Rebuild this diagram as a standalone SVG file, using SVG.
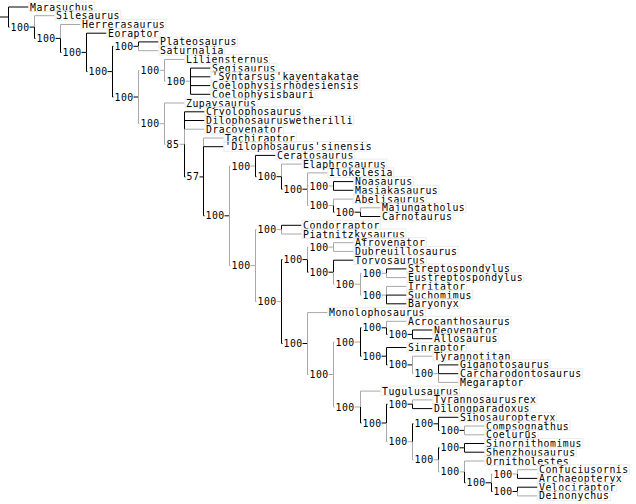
<svg xmlns="http://www.w3.org/2000/svg" width="636" height="504" viewBox="0 0 636 504">
<style>
path{fill:none;stroke-width:1}
.k{stroke:#000}
.g{stroke:#a8a8a8}
text{font-family:"DejaVu Sans Mono","Liberation Mono",monospace;font-size:9.8px;letter-spacing:0.5px;fill:#000}
.lb{fill:none;stroke:#ececec;stroke-width:1}
.nb{fill:#fff}
</style>
<rect width="636" height="504" fill="#fff"/>
<g id="connectors">
<path class="k" d="M0 17H8.5M8.5 17V7H28.5M8.5 17V27.1H34.5"/>
<path class="g" d="M34.5 27.1V15.7H54.5"/>
<path class="k" d="M34.5 27.1V38.4H60.5"/>
<path class="g" d="M60.5 38.4V24.5H80.5"/>
<path class="k" d="M60.5 38.4V52.4H86.5"/>
<path class="k" d="M86.5 52.4V33.2H106.5M86.5 52.4V71.6H112.5"/>
<path class="k" d="M112.5 71.6V46.3H138.5M112.5 71.6V97H138.5"/>
<path class="k" d="M138.5 46.3V41.9H158.5"/>
<path class="g" d="M138.5 46.3V50.7H158.5"/>
<path class="g" d="M138.5 97V70.3H164.5M138.5 97V123.7H164.5"/>
<path class="g" d="M164.5 70.3V59.4H184.5M164.5 70.3V81.2H190.5"/>
<path class="k" d="M190.5 81.2V68.1H210.5M190.5 81.2V76.8H210.5M190.5 81.2V85.6H210.5M190.5 81.2V94.3H210.5"/>
<path class="g" d="M164.5 123.7V103H184.5M164.5 123.7V144.3H184.5"/>
<path class="k" d="M184.5 144.3V111.8H204.5M184.5 144.3V120.5H204.5M184.5 144.3V176.9H203.5"/>
<path class="g" d="M184.5 144.3V129.2H204.5"/>
<path class="g" d="M203.5 176.9V138H223.5"/>
<path class="k" d="M203.5 176.9V146.7H223.5M203.5 176.9V215.8H229.5"/>
<path class="g" d="M229.5 215.8V166H255.5M229.5 215.8V265.6H255.5"/>
<path class="k" d="M255.5 166V155.4H275.5M255.5 166V176.7H281.5"/>
<path class="g" d="M281.5 176.7V164.1H301.5"/>
<path class="k" d="M281.5 176.7V189.2H307.5"/>
<path class="g" d="M307.5 189.2V172.9H327.5M307.5 189.2V186H333.5M307.5 189.2V205.6H333.5"/>
<path class="k" d="M333.5 186V181.6H353.5M333.5 186V190.3H353.5"/>
<path class="g" d="M333.5 205.6V199.1H353.5"/>
<path class="k" d="M333.5 205.6V212.2H360.5"/>
<path class="g" d="M360.5 212.2V207.8H380.5"/>
<path class="k" d="M360.5 212.2V216.5H380.5"/>
<path class="g" d="M255.5 265.6V229.6H281.5M255.5 265.6V301.6H281.5"/>
<path class="k" d="M281.5 229.6V225.3H301.5"/>
<path class="g" d="M281.5 229.6V234H301.5"/>
<path class="k" d="M281.5 301.6V259.6H307.5M281.5 301.6V343.5H307.5"/>
<path class="g" d="M307.5 259.6V247.1H333.5"/>
<path class="k" d="M307.5 259.6V272.2H333.5"/>
<path class="g" d="M333.5 247.1V242.7H353.5M333.5 247.1V251.4H353.5"/>
<path class="k" d="M333.5 272.2V260.2H353.5"/>
<path class="g" d="M333.5 272.2V284.2H360.5"/>
<path class="g" d="M360.5 284.2V273.3H386.5M360.5 284.2V295.1H386.5"/>
<path class="k" d="M386.5 273.3V268.9H406.5"/>
<path class="g" d="M386.5 273.3V277.6H406.5"/>
<path class="g" d="M386.5 295.1V286.4H406.5"/>
<path class="k" d="M386.5 295.1H406.5M386.5 295.1V303.8H406.5"/>
<path class="g" d="M307.5 343.5V312.6H327.5M307.5 343.5V374.5H333.5"/>
<path class="g" d="M333.5 374.5V342H360.5M333.5 374.5V407H360.5"/>
<path class="k" d="M360.5 342V327.8H386.5M360.5 342V356.2H386.5"/>
<path class="g" d="M386.5 327.8V321.3H406.5"/>
<path class="k" d="M386.5 327.8V334.4H412.5"/>
<path class="k" d="M412.5 334.4V330H432.5M412.5 334.4V338.7H432.5"/>
<path class="k" d="M386.5 356.2V347.5H406.5M386.5 356.2V364.9H412.5"/>
<path class="g" d="M412.5 364.9V356.2H432.5M412.5 364.9V373.7H438.5"/>
<path class="k" d="M438.5 373.7V364.9H458.5M438.5 373.7H458.5"/>
<path class="g" d="M438.5 373.7V382.4H458.5"/>
<path class="g" d="M360.5 407V391.1H380.5"/>
<path class="k" d="M360.5 407V423H386.5"/>
<path class="k" d="M386.5 423V404.2H412.5"/>
<path class="g" d="M386.5 423V441.8H412.5"/>
<path class="g" d="M412.5 404.2V399.9H432.5"/>
<path class="k" d="M412.5 404.2V408.6H432.5"/>
<path class="k" d="M412.5 441.8V423.8H438.5"/>
<path class="g" d="M412.5 441.8V459.8H438.5"/>
<path class="k" d="M438.5 423.8V417.3H458.5M438.5 423.8V430.4H464.5"/>
<path class="g" d="M464.5 430.4V426H484.5M464.5 430.4V434.8H484.5"/>
<path class="k" d="M438.5 459.8V447.8H464.5"/>
<path class="g" d="M438.5 459.8V471.9H464.5"/>
<path class="k" d="M464.5 447.8V443.5H484.5M464.5 447.8V452.2H484.5"/>
<path class="g" d="M464.5 471.9V461H484.5"/>
<path class="k" d="M464.5 471.9V482.8H491.5"/>
<path class="g" d="M491.5 482.8V474H517.5"/>
<path class="k" d="M491.5 482.8V491.5H517.5"/>
<path class="g" d="M517.5 474V469.7H537.5"/>
<path class="k" d="M517.5 474V478.4H537.5"/>
<path class="k" d="M517.5 491.5V487.2H537.5"/>
<path class="g" d="M517.5 491.5V495.9H537.5"/>
</g>
<g id="node-A"><rect class="nb" x="9.5" y="22.1" width="20" height="10"/><text x="10.5" y="30.6">100</text></g>
<g id="node-B"><rect class="nb" x="35.5" y="33.4" width="20" height="10"/><text x="36.5" y="41.9">100</text></g>
<g id="node-C"><rect class="nb" x="61.5" y="47.4" width="20" height="10"/><text x="62.5" y="55.9">100</text></g>
<g id="node-D"><rect class="nb" x="87.5" y="66.6" width="20" height="10"/><text x="88.5" y="75.1">100</text></g>
<g id="node-P"><rect class="nb" x="113.5" y="41.3" width="20" height="10"/><text x="114.5" y="49.8">100</text></g>
<g id="node-E"><rect class="nb" x="113.5" y="92" width="20" height="10"/><text x="114.5" y="100.5">100</text></g>
<g id="node-Q"><rect class="nb" x="139.5" y="65.3" width="20" height="10"/><text x="140.5" y="73.8">100</text></g>
<g id="node-F"><rect class="nb" x="139.5" y="118.7" width="20" height="10"/><text x="140.5" y="127.2">100</text></g>
<g id="node-R"><rect class="nb" x="165.5" y="76.2" width="20" height="10"/><text x="166.5" y="84.7">100</text></g>
<g id="node-G"><rect class="nb" x="165.5" y="139.3" width="14" height="10"/><text x="166.5" y="147.8">85</text></g>
<g id="node-H"><rect class="nb" x="185.5" y="171.9" width="14" height="10"/><text x="186.5" y="180.4">57</text></g>
<g id="node-I"><rect class="nb" x="204.5" y="210.8" width="20" height="10"/><text x="205.5" y="219.3">100</text></g>
<g id="node-J"><rect class="nb" x="230.5" y="161" width="20" height="10"/><text x="231.5" y="169.5">100</text></g>
<g id="node-K"><rect class="nb" x="230.5" y="260.6" width="20" height="10"/><text x="231.5" y="269.1">100</text></g>
<g id="node-J2"><rect class="nb" x="256.5" y="171.7" width="20" height="10"/><text x="257.5" y="180.2">100</text></g>
<g id="node-J3"><rect class="nb" x="282.5" y="184.2" width="20" height="10"/><text x="283.5" y="192.7">100</text></g>
<g id="node-Noa"><rect class="nb" x="308.5" y="181" width="20" height="10"/><text x="309.5" y="189.5">100</text></g>
<g id="node-Abel"><rect class="nb" x="308.5" y="200.6" width="20" height="10"/><text x="309.5" y="209.1">100</text></g>
<g id="node-MC"><rect class="nb" x="334.5" y="207.2" width="20" height="10"/><text x="335.5" y="215.7">100</text></g>
<g id="node-K1"><rect class="nb" x="256.5" y="224.6" width="20" height="10"/><text x="257.5" y="233.1">100</text></g>
<g id="node-K2"><rect class="nb" x="256.5" y="296.6" width="20" height="10"/><text x="257.5" y="305.1">100</text></g>
<g id="node-M"><rect class="nb" x="282.5" y="254.6" width="20" height="10"/><text x="283.5" y="263.1">100</text></g>
<g id="node-N"><rect class="nb" x="282.5" y="338.5" width="20" height="10"/><text x="283.5" y="347">100</text></g>
<g id="node-M1"><rect class="nb" x="308.5" y="242.1" width="20" height="10"/><text x="309.5" y="250.6">100</text></g>
<g id="node-M2"><rect class="nb" x="308.5" y="267.2" width="20" height="10"/><text x="309.5" y="275.7">100</text></g>
<g id="node-M3"><rect class="nb" x="334.5" y="279.2" width="20" height="10"/><text x="335.5" y="287.7">100</text></g>
<g id="node-S1"><rect class="nb" x="361.5" y="268.3" width="20" height="10"/><text x="362.5" y="276.8">100</text></g>
<g id="node-S2"><rect class="nb" x="361.5" y="290.1" width="20" height="10"/><text x="362.5" y="298.6">100</text></g>
<g id="node-N2"><rect class="nb" x="308.5" y="369.5" width="20" height="10"/><text x="309.5" y="378">100</text></g>
<g id="node-N3"><rect class="nb" x="334.5" y="337" width="20" height="10"/><text x="335.5" y="345.5">100</text></g>
<g id="node-N4"><rect class="nb" x="334.5" y="402" width="20" height="10"/><text x="335.5" y="410.5">100</text></g>
<g id="node-N3a"><rect class="nb" x="361.5" y="322.8" width="20" height="10"/><text x="362.5" y="331.3">100</text></g>
<g id="node-N3b"><rect class="nb" x="361.5" y="351.2" width="20" height="10"/><text x="362.5" y="359.7">100</text></g>
<g id="node-NA"><rect class="nb" x="387.5" y="329.4" width="20" height="10"/><text x="388.5" y="337.9">100</text></g>
<g id="node-TN"><rect class="nb" x="387.5" y="359.9" width="20" height="10"/><text x="388.5" y="368.4">100</text></g>
<g id="node-GC"><rect class="nb" x="413.5" y="368.7" width="20" height="10"/><text x="414.5" y="377.2">100</text></g>
<g id="node-N5"><rect class="nb" x="361.5" y="418" width="20" height="10"/><text x="362.5" y="426.5">100</text></g>
<g id="node-TY"><rect class="nb" x="387.5" y="399.2" width="20" height="10"/><text x="388.5" y="407.7">100</text></g>
<g id="node-N6"><rect class="nb" x="387.5" y="436.8" width="20" height="10"/><text x="388.5" y="445.3">100</text></g>
<g id="node-SI"><rect class="nb" x="413.5" y="418.8" width="20" height="10"/><text x="414.5" y="427.3">100</text></g>
<g id="node-CO"><rect class="nb" x="439.5" y="425.4" width="20" height="10"/><text x="440.5" y="433.9">100</text></g>
<g id="node-N7"><rect class="nb" x="413.5" y="454.8" width="20" height="10"/><text x="414.5" y="463.3">100</text></g>
<g id="node-SN"><rect class="nb" x="439.5" y="442.8" width="20" height="10"/><text x="440.5" y="451.3">100</text></g>
<g id="node-N8"><rect class="nb" x="439.5" y="466.9" width="20" height="10"/><text x="440.5" y="475.4">100</text></g>
<g id="node-N9"><rect class="nb" x="465.5" y="477.8" width="20" height="10"/><text x="466.5" y="486.3">100</text></g>
<g id="node-CA"><rect class="nb" x="492.5" y="469" width="20" height="10"/><text x="493.5" y="477.5">100</text></g>
<g id="node-VD"><rect class="nb" x="492.5" y="486.5" width="20" height="10"/><text x="493.5" y="495">100</text></g>
<g id="leaf-Marasuchus"><rect class="lb" x="29" y="2" width="65.8" height="9.5"/><text x="30" y="10.5">Marasuchus</text></g>
<g id="leaf-Silesaurus"><rect class="lb" x="55" y="10.7" width="65.8" height="9.5"/><text x="56" y="19.2">Silesaurus</text></g>
<g id="leaf-Herrerasaurus"><rect class="lb" x="81" y="19.5" width="84.9" height="9.5"/><text x="82" y="28">Herrerasaurus</text></g>
<g id="leaf-Eoraptor"><rect class="lb" x="107" y="28.2" width="53" height="9.5"/><text x="108" y="36.7">Eoraptor</text></g>
<g id="leaf-Plateosaurus"><rect class="lb" x="159" y="36.9" width="78.6" height="9.5"/><text x="160" y="45.4">Plateosaurus</text></g>
<g id="leaf-Saturnalia"><rect class="lb" x="159" y="45.7" width="65.8" height="9.5"/><text x="160" y="54.2">Saturnalia</text></g>
<g id="leaf-Liliensternus"><rect class="lb" x="185" y="54.4" width="84.9" height="9.5"/><text x="186" y="62.9">Liliensternus</text></g>
<g id="leaf-Segisaurus"><rect class="lb" x="211" y="63.1" width="65.8" height="9.5"/><text x="212" y="71.6">Segisaurus</text></g>
<g id="leaf-Syntarsus"><rect class="lb" x="211" y="71.8" width="148.7" height="9.5"/><text x="212" y="80.3">'Syntarsus'kayentakatae</text></g>
<g id="leaf-Crhodesiensis"><rect class="lb" x="211" y="80.6" width="148.7" height="9.5"/><text x="212" y="89.1">Coelophysisrhodesiensis</text></g>
<g id="leaf-Cbauri"><rect class="lb" x="211" y="89.3" width="104.1" height="9.5"/><text x="212" y="97.8">Coelophysisbauri</text></g>
<g id="leaf-Zupaysaurus"><rect class="lb" x="185" y="98" width="72.2" height="9.5"/><text x="186" y="106.5">Zupaysaurus</text></g>
<g id="leaf-Cryolophosaurus"><rect class="lb" x="205" y="106.8" width="97.7" height="9.5"/><text x="206" y="115.3">Cryolophosaurus</text></g>
<g id="leaf-Dwetherilli"><rect class="lb" x="205" y="115.5" width="148.7" height="9.5"/><text x="206" y="124">Dilophosauruswetherilli</text></g>
<g id="leaf-Dracovenator"><rect class="lb" x="205" y="124.2" width="78.6" height="9.5"/><text x="206" y="132.7">Dracovenator</text></g>
<g id="leaf-Tachiraptor"><rect class="lb" x="224" y="133" width="72.2" height="9.5"/><text x="225" y="141.5">Tachiraptor</text></g>
<g id="leaf-Dsinensis"><rect class="lb" x="224" y="141.7" width="142.4" height="9.5"/><text x="225" y="150.2">'Dilophosaurus'sinensis</text></g>
<g id="leaf-Ceratosaurus"><rect class="lb" x="276" y="150.4" width="78.6" height="9.5"/><text x="277" y="158.9">Ceratosaurus</text></g>
<g id="leaf-Elaphrosaurus"><rect class="lb" x="302" y="159.1" width="84.9" height="9.5"/><text x="303" y="167.6">Elaphrosaurus</text></g>
<g id="leaf-Ilokelesia"><rect class="lb" x="328" y="167.9" width="65.8" height="9.5"/><text x="329" y="176.4">Ilokelesia</text></g>
<g id="leaf-Noasaurus"><rect class="lb" x="354" y="176.6" width="59.4" height="9.5"/><text x="355" y="185.1">Noasaurus</text></g>
<g id="leaf-Masiakasaurus"><rect class="lb" x="354" y="185.3" width="84.9" height="9.5"/><text x="355" y="193.8">Masiakasaurus</text></g>
<g id="leaf-Abelisaurus"><rect class="lb" x="354" y="194.1" width="72.2" height="9.5"/><text x="355" y="202.6">Abelisaurus</text></g>
<g id="leaf-Majungatholus"><rect class="lb" x="381" y="202.8" width="84.9" height="9.5"/><text x="382" y="211.3">Majungatholus</text></g>
<g id="leaf-Carnotaurus"><rect class="lb" x="381" y="211.5" width="72.2" height="9.5"/><text x="382" y="220">Carnotaurus</text></g>
<g id="leaf-Condorraptor"><rect class="lb" x="302" y="220.3" width="78.6" height="9.5"/><text x="303" y="228.8">Condorraptor</text></g>
<g id="leaf-Piatnitzkysaurus"><rect class="lb" x="302" y="229" width="104.1" height="9.5"/><text x="303" y="237.5">Piatnitzkysaurus</text></g>
<g id="leaf-Afrovenator"><rect class="lb" x="354" y="237.7" width="72.2" height="9.5"/><text x="355" y="246.2">Afrovenator</text></g>
<g id="leaf-Dubreuillosaurus"><rect class="lb" x="354" y="246.4" width="104.1" height="9.5"/><text x="355" y="254.9">Dubreuillosaurus</text></g>
<g id="leaf-Torvosaurus"><rect class="lb" x="354" y="255.2" width="72.2" height="9.5"/><text x="355" y="263.7">Torvosaurus</text></g>
<g id="leaf-Streptospondylus"><rect class="lb" x="407" y="263.9" width="104.1" height="9.5"/><text x="408" y="272.4">Streptospondylus</text></g>
<g id="leaf-Eustreptospondylus"><rect class="lb" x="407" y="272.6" width="116.8" height="9.5"/><text x="408" y="281.1">Eustreptospondylus</text></g>
<g id="leaf-Irritator"><rect class="lb" x="407" y="281.4" width="59.4" height="9.5"/><text x="408" y="289.9">Irritator</text></g>
<g id="leaf-Suchomimus"><rect class="lb" x="407" y="290.1" width="65.8" height="9.5"/><text x="408" y="298.6">Suchomimus</text></g>
<g id="leaf-Baryonyx"><rect class="lb" x="407" y="298.8" width="53" height="9.5"/><text x="408" y="307.3">Baryonyx</text></g>
<g id="leaf-Monolophosaurus"><rect class="lb" x="328" y="307.6" width="97.7" height="9.5"/><text x="329" y="316.1">Monolophosaurus</text></g>
<g id="leaf-Acrocanthosaurus"><rect class="lb" x="407" y="316.3" width="104.1" height="9.5"/><text x="408" y="324.8">Acrocanthosaurus</text></g>
<g id="leaf-Neovenator"><rect class="lb" x="433" y="325" width="65.8" height="9.5"/><text x="434" y="333.5">Neovenator</text></g>
<g id="leaf-Allosaurus"><rect class="lb" x="433" y="333.7" width="65.8" height="9.5"/><text x="434" y="342.2">Allosaurus</text></g>
<g id="leaf-Sinraptor"><rect class="lb" x="407" y="342.5" width="59.4" height="9.5"/><text x="408" y="351">Sinraptor</text></g>
<g id="leaf-Tyrannotitan"><rect class="lb" x="433" y="351.2" width="78.6" height="9.5"/><text x="434" y="359.7">Tyrannotitan</text></g>
<g id="leaf-Giganotosaurus"><rect class="lb" x="459" y="359.9" width="91.3" height="9.5"/><text x="460" y="368.4">Giganotosaurus</text></g>
<g id="leaf-Carcharodontosaurus"><rect class="lb" x="459" y="368.7" width="123.2" height="9.5"/><text x="460" y="377.2">Carcharodontosaurus</text></g>
<g id="leaf-Megaraptor"><rect class="lb" x="459" y="377.4" width="65.8" height="9.5"/><text x="460" y="385.9">Megaraptor</text></g>
<g id="leaf-Tugulusaurus"><rect class="lb" x="381" y="386.1" width="78.6" height="9.5"/><text x="382" y="394.6">Tugulusaurus</text></g>
<g id="leaf-Tyrannosaurusrex"><rect class="lb" x="433" y="394.9" width="104.1" height="9.5"/><text x="434" y="403.4">Tyrannosaurusrex</text></g>
<g id="leaf-Dilongparadoxus"><rect class="lb" x="433" y="403.6" width="97.7" height="9.5"/><text x="434" y="412.1">Dilongparadoxus</text></g>
<g id="leaf-Sinosauropteryx"><rect class="lb" x="459" y="412.3" width="97.7" height="9.5"/><text x="460" y="420.8">Sinosauropteryx</text></g>
<g id="leaf-Compsognathus"><rect class="lb" x="485" y="421" width="84.9" height="9.5"/><text x="486" y="429.5">Compsognathus</text></g>
<g id="leaf-Coelurus"><rect class="lb" x="485" y="429.8" width="53" height="9.5"/><text x="486" y="438.3">Coelurus</text></g>
<g id="leaf-Sinornithomimus"><rect class="lb" x="485" y="438.5" width="97.7" height="9.5"/><text x="486" y="447">Sinornithomimus</text></g>
<g id="leaf-Shenzhousaurus"><rect class="lb" x="485" y="447.2" width="91.3" height="9.5"/><text x="486" y="455.7">Shenzhousaurus</text></g>
<g id="leaf-Ornitholestes"><rect class="lb" x="485" y="456" width="84.9" height="9.5"/><text x="486" y="464.5">Ornitholestes</text></g>
<g id="leaf-Confuciusornis"><rect class="lb" x="538" y="464.7" width="91.3" height="9.5"/><text x="539" y="473.2">Confuciusornis</text></g>
<g id="leaf-Archaeopteryx"><rect class="lb" x="538" y="473.4" width="84.9" height="9.5"/><text x="539" y="481.9">Archaeopteryx</text></g>
<g id="leaf-Velociraptor"><rect class="lb" x="538" y="482.2" width="78.6" height="9.5"/><text x="539" y="490.7">Velociraptor</text></g>
<g id="leaf-Deinonychus"><rect class="lb" x="538" y="490.9" width="72.2" height="9.5"/><text x="539" y="499.4">Deinonychus</text></g>
</svg>
